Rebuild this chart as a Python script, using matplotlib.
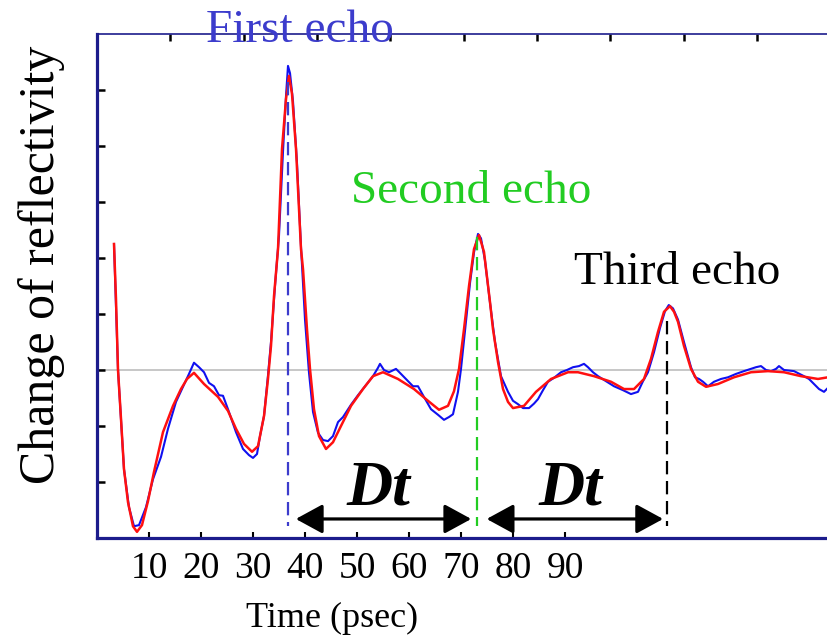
import matplotlib
matplotlib.use("Agg")
import matplotlib.pyplot as plt
from matplotlib.patches import FancyArrowPatch

# ---- data -------------------------------------------------------------
# fitted (smooth) reflectivity trace
fit_time = [3.27, 3.65, 4.04, 4.62, 5.19, 5.96, 6.92, 7.69, 8.65, 9.81,
            10.96, 12.69, 14.62, 16.15, 17.31, 18.65, 20.58, 23.27, 25.19, 26.73,
            28.27, 29.81, 30.96, 32.12, 32.88, 33.46, 34.04, 34.81, 35.58, 36.35,
            36.92, 37.5, 38.27, 39.23, 39.62, 40.38, 40.96, 41.73, 42.69, 44.04,
            45.38, 46.92, 48.85, 51.15, 53.08, 55.0, 57.88, 60.96, 63.65, 65.77,
            67.5, 68.65, 69.62, 70.58, 71.54, 72.5, 73.46, 74.42, 75.58, 76.15,
            77.12, 78.08, 79.04, 80.0, 82.12, 84.42, 87.31, 90.58, 92.5, 95.58,
            98.85, 101.35, 103.27, 105.19, 106.54, 107.88, 109.04, 110.19, 110.96, 111.73,
            112.88, 114.23, 115.58, 117.12, 119.42, 122.5, 125.77, 129.04, 132.12, 135.38,
            137.31, 138.65, 140.58]
fit_vals = [2.25, 1.27, 0.0, -0.88, -1.77, -2.36, -2.79, -2.89, -2.77, -2.34,
            -1.82, -1.11, -0.64, -0.34, -0.16, -0.05, -0.25, -0.48, -0.73, -1.05,
            -1.32, -1.46, -1.36, -0.82, -0.16, 0.43, 1.32, 2.16, 3.95, 4.84,
            5.25, 4.93, 3.95, 2.16, 1.80, 0.73, 0.02, -0.70, -1.18, -1.41,
            -1.29, -1.00, -0.64, -0.34, -0.11, -0.04, -0.16, -0.34, -0.55, -0.71,
            -0.64, -0.38, 0.02, 0.73, 1.50, 2.16, 2.41, 2.11, 1.21, 0.73,
            0.14, -0.34, -0.57, -0.68, -0.64, -0.39, -0.16, -0.04, -0.04, -0.11,
            -0.21, -0.34, -0.34, -0.16, 0.20, 0.68, 1.04, 1.14, 1.04, 0.86,
            0.43, 0.02, -0.21, -0.30, -0.25, -0.13, -0.04, -0.02, -0.04, -0.11,
            -0.14, -0.16, -0.13]

# measured reflectivity trace
meas_time = [3.27, 4.04, 5.19, 6.15, 7.12, 8.08, 9.42, 10.77, 12.31, 13.65,
             15.19, 16.54, 17.69, 18.65, 19.62, 20.58, 21.54, 22.5, 23.46, 24.23,
             25.19, 26.73, 28.08, 29.23, 30.0, 30.77, 31.35, 32.12, 32.88, 33.46,
             34.23, 35.0, 35.77, 36.35, 36.73, 37.12, 37.69, 38.46, 39.23, 40.0,
             40.77, 41.54, 42.5, 43.46, 44.42, 45.38, 46.35, 47.31, 48.85, 50.19,
             51.73, 53.08, 54.04, 54.42, 55.19, 56.15, 57.5, 58.46, 59.81, 60.77,
             61.73, 62.69, 64.23, 65.58, 66.73, 67.69, 68.46, 69.42, 70.0, 70.77,
             71.73, 72.5, 73.27, 73.85, 74.62, 75.58, 76.54, 77.69, 79.04, 80.0,
             80.96, 81.92, 83.08, 84.04, 84.81, 85.77, 86.73, 87.88, 89.23, 90.38,
             91.54, 92.69, 93.65, 94.42, 95.38, 96.35, 97.88, 99.42, 101.15, 102.69,
             104.04, 105.0, 105.96, 107.12, 108.27, 109.23, 109.96, 110.77, 111.73, 112.88,
             114.23, 115.0, 115.77, 116.54, 117.5, 118.08, 118.65, 120.0, 121.35, 122.88,
             124.42, 125.77, 126.73, 127.69, 128.65, 129.62, 130.58, 131.15, 132.12, 134.04,
             135.96, 136.92, 137.88, 138.85, 139.81, 140.77]
meas_vals = [2.25, 0.0, -1.77, -2.45, -2.79, -2.77, -2.45, -1.95, -1.55, -1.05,
             -0.57, -0.30, -0.07, 0.13, 0.05, -0.04, -0.23, -0.29, -0.45, -0.46,
             -0.70, -1.11, -1.41, -1.52, -1.57, -1.50, -1.18, -0.82, -0.10, 0.50,
             1.50, 2.40, 3.90, 4.90, 5.43, 5.30, 4.80, 3.70, 2.20, 0.90,
             -0.05, -0.75, -1.12, -1.25, -1.27, -1.18, -0.93, -0.84, -0.62, -0.45,
             -0.27, -0.11, 0.04, 0.11, 0.0, -0.04, 0.02, -0.07, -0.20, -0.29,
             -0.29, -0.45, -0.70, -0.80, -0.89, -0.84, -0.79, -0.39, 0.02, 0.70,
             1.55, 2.10, 2.43, 2.35, 1.95, 1.20, 0.50, -0.11, -0.39, -0.55,
             -0.61, -0.68, -0.68, -0.60, -0.52, -0.36, -0.21, -0.14, -0.04, 0.0,
             0.05, 0.07, 0.11, 0.05, -0.04, -0.11, -0.20, -0.29, -0.36, -0.43,
             -0.39, -0.20, -0.04, 0.32, 0.75, 1.05, 1.16, 1.10, 0.90, 0.50,
             0.05, -0.13, -0.16, -0.21, -0.29, -0.25, -0.21, -0.16, -0.13, -0.07,
             -0.02, 0.02, 0.05, 0.07, 0.0, -0.02, 0.02, 0.07, 0.0, -0.02,
             -0.11, -0.16, -0.25, -0.34, -0.39, -0.30]

# echo labels and the dashed markers under each echo peak
echo_names = ["First echo", "Second echo", "Third echo"]
echo_colors = ["#3c3ccc", "#22cc22", "#000000"]
echo_times = [36.73, 73.08, 109.6]
echo_tops = [5.14, 2.375, 0.875]
label_x = [20.96, 48.85, 91.7]
label_y = [5.86, 2.98, 1.54]

# spacing arrows between echoes
arrow_starts = [37.7, 74.4]
arrow_ends = [72.5, 109.4]
arrow_level = -2.66
dt_x = [54.2, 91.0]
dt_y = -2.40

xtick_vals = [10, 20, 30, 40, 50, 60, 70, 80, 90]
xtick_labels = ["10", "20", "30", "40", "50", "60", "70", "80", "90"]
ytick_vals = [-2, -1, 0, 1, 2, 3, 4, 5]

# ---- figure -----------------------------------------------------------
serif = ["Liberation Serif", "DejaVu Serif"]
plt.rcParams["font.family"] = serif

fig = plt.figure(figsize=(8.28, 6.44), dpi=100)
ax = fig.add_axes([97 / 828, 1 - 538 / 644, 145 * 5.2 / 828, 504 / 644])
ax.set_xlim(0, 145)
ax.set_ylim(-3, 6)

navy = "#1c1c8c"
for side in ("left", "bottom"):
    ax.spines[side].set_color(navy)
    ax.spines[side].set_linewidth(2.3)
ax.spines["top"].set_color(navy)
ax.spines["top"].set_linewidth(1.2)
ax.spines["right"].set_visible(False)

ax.axhline(0, color="#bdbdbd", lw=1.2, zorder=1)

ax.plot(meas_time, meas_vals, color="#1010f0", lw=1.5, zorder=3)
ax.plot(fit_time, fit_vals, color="#ff1010", lw=1.8, zorder=4)

# dashed markers
for t, top, c in zip(echo_times, echo_tops, echo_colors):
    ax.plot([t, t], [top, -2.78], color=c, lw=1.6, ls=(0, (6, 3)), zorder=5)

# echo names
for name, c, x, y in zip(echo_names, echo_colors, label_x, label_y):
    ax.text(x, y, name, color=c, fontsize=34, ha="left", va="baseline",
            clip_on=False, zorder=6)

# spacing arrows and Dt labels
for a, b, xd in zip(arrow_starts, arrow_ends, dt_x):
    arr = FancyArrowPatch((a, arrow_level), (b, arrow_level),
                          arrowstyle="<|-|>,head_length=1.1,head_width=0.6",
                          mutation_scale=15, color="black", lw=2.3, zorder=6)
    ax.add_patch(arr)
    ax.text(xd, dt_y, "Dt", fontsize=46, fontweight="bold", fontstyle="italic",
            ha="center", va="baseline", zorder=6)

# ticks
ax.set_xticks(xtick_vals)
ax.set_xticklabels(xtick_labels)
ax.set_yticks(ytick_vals)
ax.set_yticklabels([])
ax.tick_params(axis="x", direction="in", length=4, width=1.5, color="black",
               labelsize=27, pad=10)
ax.tick_params(axis="y", direction="in", length=6, width=1.8, color="black")

# top ticks on a wider spacing
top_step = 14.1
top_ax = ax.secondary_xaxis("top")
top_ax.set_xticks([top_step * k for k in range(1, 11)])
top_ax.set_xticklabels([])
top_ax.tick_params(direction="in", length=5, width=1.8, color="black")
top_ax.spines["top"].set_visible(False)

fig.text(332 / 828, 1 - 618 / 644, "Time (psec)", fontsize=26,
         ha="center", va="center")
fig.text(42 / 828, 1 - 265 / 644, "Change of reflectivity", fontsize=36,
         rotation=90, ha="center", va="center")

fig.savefig("out.png", dpi=100)
